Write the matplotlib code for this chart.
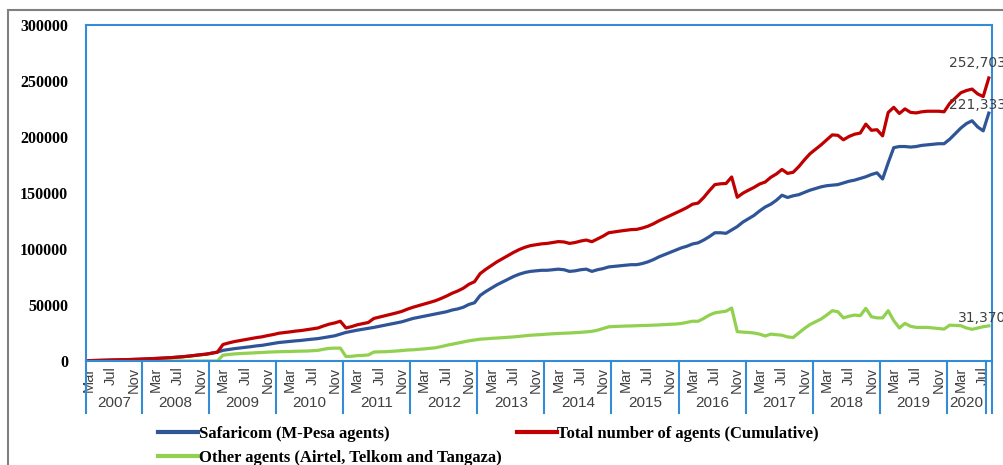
import numpy as np
import matplotlib
matplotlib.use("Agg")
import matplotlib.pyplot as plt
from matplotlib.patches import Rectangle
from matplotlib.transforms import blended_transform_factory

# monthly values, Mar 2007 .. Aug 2020
years = ["2007", "2008", "2009", "2010", "2011", "2012", "2013",
         "2014", "2015", "2016", "2017", "2018", "2019", "2020"]
months_in_year = [10, 12, 12, 12, 12, 12, 12, 12, 12, 12, 12, 12, 12, 7]
month_names = ["Mar", "Jul", "Nov"]

safaricom = [
    300, 450, 600, 750, 900, 1000, 1100, 1250, 1400, 1580,
    1800, 2000, 2250, 2500, 2800, 3100, 3500, 3900, 4400, 5000, 5600, 6100,
    7000, 7900, 9500, 10300, 11000, 11600, 12200, 12800, 13500, 14000, 14800, 15500,
    16500, 17000, 17500, 18000, 18400, 19000, 19500, 20000, 20800, 21600, 22500, 24000,
    25500, 26500, 27500, 28300, 29000, 30000, 31000, 32000, 33000, 34000, 35000, 36500,
    38000, 39000, 40000, 41000, 42000, 43000, 44000, 45500, 46500, 48000, 50500, 52000,
    58500, 62000, 65000, 68000, 70500, 73000, 75500, 77500, 79000, 80000, 80500, 81000,
    81000, 81500, 82000, 81500, 80000, 80500, 81500, 82000, 80000, 81500, 82500, 84000,
    84500, 85000, 85500, 86000, 86000, 87000, 88500, 90500, 93000, 95000, 97000, 99000,
    101000, 102500, 104500, 105500, 108000, 111000, 114500, 114500, 114000, 117000, 120000, 124000,
    127000, 130000, 134000, 137500, 140000, 143500, 148000, 146000, 147500, 148500, 150500, 152500,
    154000, 155500, 156500, 157000, 157500, 159000, 160500, 161500, 163000, 164500, 166500, 168000,
    162500, 177000, 190500, 191500, 191500, 191000, 191500, 192500, 193000, 193500, 194000, 194000,
    198000, 203000, 208000, 212000, 214500, 209000, 205500, 221333,
]

other = [
    0, 0, 0, 0, 0, 0, 0, 0, 0, 0,
    0, 0, 0, 0, 0, 0, 0, 0, 0, 0, 0, 0,
    0, 0, 5200, 5800, 6300, 6600, 6900, 7100, 7400, 7600, 7900, 8100,
    8300, 8400, 8500, 8700, 8800, 8900, 9200, 9500, 10500, 11300, 11500, 11500,
    4000, 4200, 4800, 5000, 5400, 8000, 8200, 8300, 8600, 8900, 9300, 9800,
    10000, 10400, 10800, 11300, 11800, 12800, 14000, 15000, 16000, 17000, 18000, 18800,
    19500, 19800, 20200, 20500, 20800, 21200, 21500, 22000, 22500, 23000, 23300, 23600,
    24000, 24300, 24600, 24800, 25000, 25300, 25600, 26000, 26500, 27500, 29000, 30500,
    30800, 31000, 31200, 31300, 31500, 31700, 31800, 32000, 32200, 32500, 32800, 33000,
    33500, 34500, 35500, 35500, 38000, 41000, 43000, 43700, 44500, 47300, 26200, 25800,
    25500, 25000, 24000, 22300, 24000, 23500, 23000, 21500, 21000, 25000, 29000, 32500,
    35000, 37500, 41000, 44900, 44000, 38500, 40000, 41000, 40500, 47000, 39500, 38500,
    38500, 44900, 36000, 29500, 33600, 31000, 30000, 30000, 30000, 29500, 29000, 28500,
    32000, 31800, 31500, 29500, 28300, 29500, 30600, 31370,
]

safaricom = np.array(safaricom)
other = np.array(other)
total = safaricom + other

BLUE = "#2F5597"
RED = "#C00000"
GREEN = "#92D050"
AXIS = "#348CD6"
GREY = "#404040"

fig = plt.figure(figsize=(10.04, 4.65), dpi=100)
ax = fig.add_axes([86 / 1004, 104 / 465, 905.6 / 1004, 336 / 465])

x = np.arange(len(safaricom))
ax.plot(x, safaricom, color=BLUE, lw=2.3, label="Safaricom (M-Pesa agents)")
ax.plot(x, other, color=GREEN, lw=2.3, label="Other agents (Airtel, Telkom and Tangaza)")
ax.plot(x, total, color=RED, lw=2.3, label="Total number of agents (Cumulative)")

ax.set_xlim(-0.5, len(x) - 0.5)
ax.set_ylim(0, 300000)
ax.set_yticks(np.arange(0, 300001, 50000))
ax.set_yticklabels([str(v) for v in range(0, 300001, 50000)],
                   family="Liberation Serif", fontweight="bold", fontsize=11.5)
ax.tick_params(axis="y", length=0, pad=13)

for s in ax.spines.values():
    s.set_color(AXIS)
    s.set_linewidth(1.5)

# month ticks (every 4th month starting with Mar)
month_cycle = ["Mar", "Apr", "May", "Jun", "Jul", "Aug", "Sep", "Oct", "Nov", "Dec",
               "Jan", "Feb"]
tick_pos = []
tick_lab = []
for i in range(len(x)):
    m = month_cycle[i % 12]
    if m in month_names:
        tick_pos.append(i)
        tick_lab.append(m)
ax.set_xticks(tick_pos)
ax.set_xticklabels(tick_lab, rotation=90, fontsize=10.5, color=GREY,
                   family=["Liberation Sans Narrow", "Liberation Sans"])
ax.tick_params(axis="x", length=0, pad=4)

# year group separators and labels
trans = blended_transform_factory(ax.transData, ax.transAxes)
bounds = [-0.5]
for n in months_in_year:
    bounds.append(bounds[-1] + n)
for i, yr in enumerate(years):
    ax.text((bounds[i] + bounds[i + 1]) / 2, -0.124, yr, transform=trans,
            ha="center", va="center", fontsize=11, color=GREY,
            family="Liberation Sans")
for b in bounds + [len(x) - 0.5]:
    ax.plot([b, b], [0, -0.155], transform=trans, color=AXIS, lw=1.5,
            clip_on=False)

# data labels at the last point
last = len(x) - 1
ax.annotate(f"{total[last]:,}", (last, total[last]), xytext=(-40, 15),
            textcoords="offset pixels", ha="left", va="center",
            fontsize=10, color=GREY, family="DejaVu Sans")
ax.annotate(f"{safaricom[last]:,}", (last, safaricom[last]), xytext=(-40, 8),
            textcoords="offset pixels", ha="left", va="center",
            fontsize=10, color=GREY, family="DejaVu Sans")
ax.annotate(f"{other[last]:,}", (last, other[last]), xytext=(-31, 8),
            textcoords="offset pixels", ha="left", va="center",
            fontsize=10, color=GREY, family="DejaVu Sans")

leg = fig.legend(loc="upper left", bbox_to_anchor=(158 / 1004, 39 / 465),
                 ncol=2, frameon=False, borderpad=0, borderaxespad=0,
                 handlelength=2.4, handletextpad=0.05, columnspacing=0.9,
                 labelspacing=0.45,
                 prop={"family": "Liberation Serif", "weight": "bold", "size": 12})
for line in leg.get_lines():
    line.set_linewidth(3)

fig.add_artist(Rectangle((8 / 1004, -0.1), 1.2, (455 / 465) + 0.1,
                         transform=fig.transFigure, fill=False,
                         ec="#808080", lw=1.5))

fig.savefig("out.png", dpi=100)
